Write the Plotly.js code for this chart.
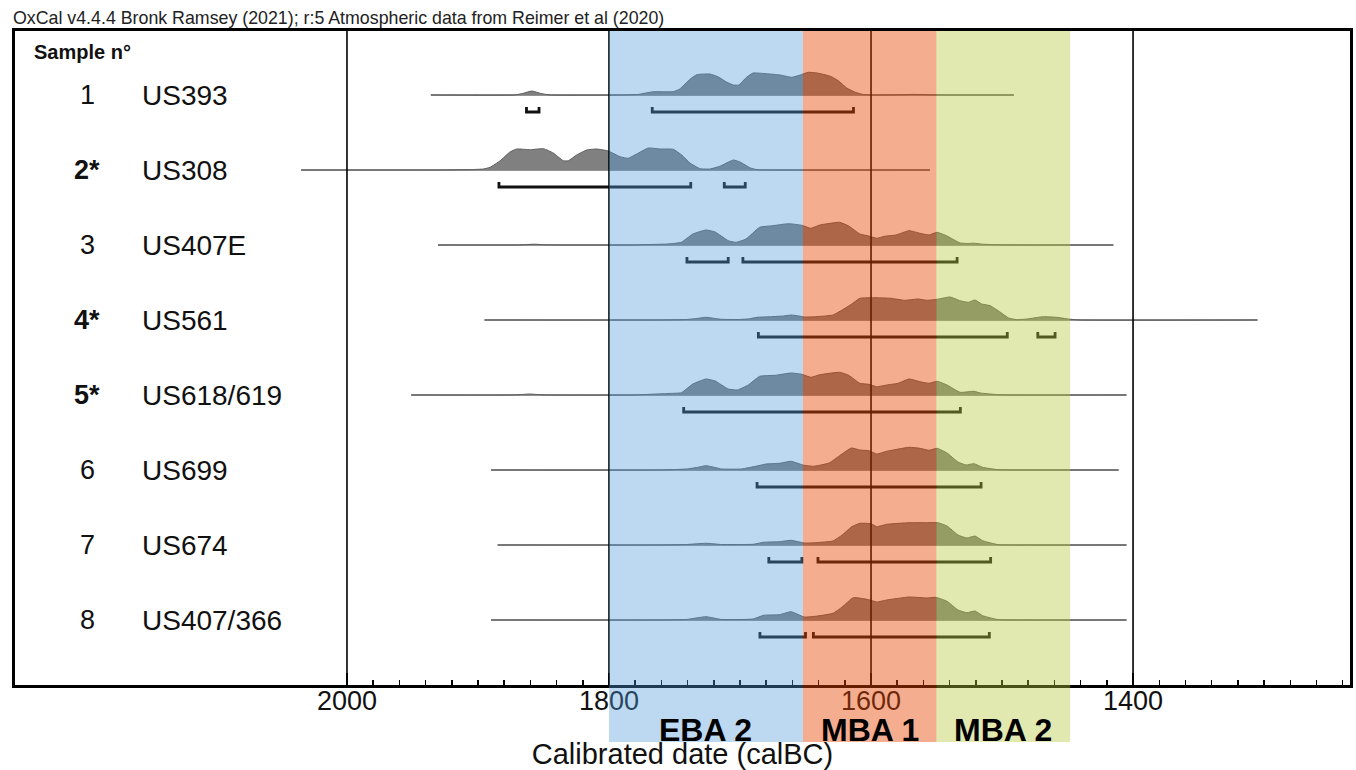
<!DOCTYPE html>
<html><head><meta charset="utf-8">
<script src="https://cdn.plot.ly/plotly-3.0.1.min.js"></script>
<style>html,body{margin:0;padding:0;background:#fff}#chart{width:1356px;height:770px}</style>
</head><body><div id="chart"></div>
<script>
// ---------- data ----------
const sampleNums  = ['1', '2*', '3', '4*', '5*', '6', '7', '8'];
const boldNums    = [false, true, false, true, true, false, false, false];
const sampleNames = ['US393', 'US308', 'US407E', 'US561', 'US618/619', 'US699', 'US674', 'US407/366'];
const lineStart   = [1936, 2035, 1930.5, 1895, 1951, 1890, 1885, 1890];
const lineEnd     = [1491, 1555, 1415, 1305, 1405, 1411, 1405, 1405];

const s1Years = [1936,1872,1866,1859,1852,1845,1790,1778,1772,1766,1751,1746,1738,1733,1723,1716.5,1710,1705,1701,1695,1690,1680,1669.5,1660.5,1654,1648,1641,1631,1625,1618.5,1612,1606,1598,1575,1567,1555,1540,1491];
const s1Dens  = [0,0,1.5,4,1.5,0,0,0.5,2,3.3,3.3,6,16,20.3,21,18,12.7,10,10,17.7,22,21.3,20,17.7,20,22.7,22,18.7,14.3,7,2.7,0.5,0,0.3,0.6,0.2,0,0];

const s2Years = [2035,1925,1905,1896,1890.8,1883,1875.6,1870.5,1860,1850,1842.5,1834.9,1831,1824.7,1817,1809.4,1800.5,1791.6,1785.3,1778.9,1770,1761,1750.9,1744.5,1738.2,1730.5,1722.9,1715,1705,1700,1692,1687,1680,1555];
const s2Dens  = [0,0,0.4,1,2.7,9.3,18,21,20.3,21.3,17,9.3,9.3,15,20,21,19,13.3,11.7,16,22,21,20.7,15,7,1.3,1,4,10,8,2,0.3,0,0];

const s3Years = [1930.5,1870,1862,1857,1850,1842,1780,1768.7,1755,1744.8,1736,1726,1719,1709,1703,1695.4,1685,1675,1663,1652.8,1646,1639,1624,1617,1608.5,1601.7,1595.6,1589.8,1581,1571,1562.6,1555.7,1549.6,1542,1532,1526,1521.5,1515,1506,1495,1415];
const s3Dens  = [0,0,0.5,0.8,0.3,0,0,0.5,1,2.7,11,15,13,4.3,2.7,6,17.7,19.3,21.3,19.7,16.7,20,22.7,19,11,9,6.7,8.7,10,14.3,11.7,10,12.7,9,2,1.5,1.8,0.8,0.3,0,0];

const s4Years = [1895,1760,1741,1733,1726,1719,1714,1700.5,1693,1687,1676.7,1667,1661,1655,1651,1642.6,1635,1629,1622,1615,1608.5,1598,1584.7,1574.4,1564,1557.4,1549,1539.7,1532,1525.7,1520.6,1515.5,1509,1501.5,1495,1488.8,1481,1468.5,1458.3,1449.4,1440.5,1305];
const s4Dens  = [0,0,0.5,1.5,2.7,1.5,0.7,0.5,1.2,2.7,3.3,4,5,4,3,3.3,4,5,10,15.7,21.7,22.3,21.7,19.7,21,19.7,20.8,23,19.3,17.7,20,16,14.3,8,2,0.3,1,3.3,2.7,1,0,0];

const s5Years = [1951,1875,1866,1860.7,1855,1848,1780,1768.7,1755,1744.8,1736,1726,1719,1709,1702,1693.7,1685,1673,1661,1652.8,1646,1639,1624,1617,1608.5,1601.7,1595.6,1588,1579.5,1571,1562.6,1555.7,1549.6,1542,1532,1521.5,1516.4,1503,1495,1405];
const s5Dens  = [0,0,0.5,1,0.5,0,0,0.7,1.5,2.3,11,16,14,6,5,10,18.7,19.7,22,20.7,17.7,20.3,22.7,19.7,11.7,10.7,8.3,10,11.7,16,13.3,11.7,13.7,10,2.7,3.7,2,0.3,0,0];

const s6Years = [1890,1760,1741,1733,1726,1719,1714,1699,1687,1680,1670,1661,1652,1644,1632,1624,1615,1608.5,1601.7,1595.6,1588,1571,1562.6,1555.7,1549.6,1542,1533.6,1527.5,1521.5,1514.8,1503,1495,1411];
const s6Dens  = [0,0,1,2.5,4.3,2.5,1,1,4,6,6.7,8.7,5,3.7,7,14.3,22,20,19.3,16,18.7,22.7,21.7,19.7,21.7,17,8,5,6.3,2.7,0.3,0,0];

const s7Years = [1885,1760,1741,1726,1714,1690,1682,1670,1661,1651,1642.6,1629,1622,1615,1608.5,1600,1595.6,1588,1571,1557.4,1549,1542,1533.6,1526.8,1520.6,1514.8,1503,1495,1405];
const s7Dens  = [0,0,0.5,1.7,0.5,0.7,2.7,3.3,4.7,2,2.3,4,10,18,21.7,21.3,18.3,20.7,22.3,22.3,22.3,19,10,7,9,4.3,0.3,0,0];

const s8Years = [1890,1760,1741,1726,1714,1690,1682,1670,1661,1651,1642.6,1629,1622,1613.6,1601.7,1595.6,1588,1571,1557.4,1550.6,1542,1533.6,1526.8,1520.6,1514.8,1503,1495,1405];
const s8Dens  = [0,0,0.5,3.3,0.5,1,4.7,5.3,8.3,3,3.7,6.7,13,22.3,20.3,18,20,23,22,22.7,18.7,10,7.3,9,4.3,0.3,0,0];

// highest-probability ranges (brackets), [from, to] in cal BC
const s1Ranges = [[1863, 1853.4], [1767, 1613.4]];
const s2Ranges = [[1884, 1737.6], [1712, 1696]];
const s3Ranges = [[1740.5, 1709], [1697.8, 1534.3]];
const s4Ranges = [[1686, 1496], [1472.7, 1459.5]];
const s5Ranges = [[1743, 1531.8]];
const s6Ranges = [[1687, 1516]];
const s7Ranges = [[1678, 1652.8], [1640.5, 1508.7]];
const s8Ranges = [[1684.8, 1650], [1644, 1509.7]];

const tickYears  = [2000, 1800, 1600, 1400];
const tickLabels = ['2000', '1800', '1600', '1400'];

const periodNames = ['EBA 2', 'MBA 1', 'MBA 2'];
const periodStart = [1800, 1652, 1550];
const periodEnd   = [1652, 1550, 1448];
const periodColors = ['rgba(82,155,221,0.38)', 'rgba(232,69,3,0.44)', 'rgba(180,200,57,0.40)'];

// ---------- build ----------
const allYears = [s1Years, s2Years, s3Years, s4Years, s5Years, s6Years, s7Years, s8Years];
const allDens  = [s1Dens, s2Dens, s3Dens, s4Dens, s5Dens, s6Dens, s7Dens, s8Dens];
const allRanges = [s1Ranges, s2Ranges, s3Ranges, s4Ranges, s5Ranges, s6Ranges, s7Ranges, s8Ranges];

const densScale = 1 / 75;     // density units -> row units
const bracketOff = 17 / 75;   // bracket offset below baseline
const hook = 5 / 75;

const traces = [];
for (let i = 0; i < 8; i++) {
  const row = i + 1;
  traces.push({
    type: 'scatter', mode: 'lines',
    x: [lineStart[i], lineEnd[i]], y: [row, row],
    line: {color: '#6e6e6e', width: 1.4}, hoverinfo: 'skip'
  });
  traces.push({
    type: 'scatter', mode: 'lines', fill: 'toself',
    x: allYears[i], y: allDens[i].map(d => row - d * densScale),
    fillcolor: '#808080', line: {color: '#5e5e5e', width: 1, shape: 'spline', smoothing: 0.4},
    hoverinfo: 'skip'
  });
  const bx = [], by = [];
  allRanges[i].forEach(r => {
    const yb = row + bracketOff;
    bx.push(r[0], r[0], r[1], r[1], null);
    by.push(yb - hook, yb, yb, yb - hook, null);
  });
  traces.push({
    type: 'scatter', mode: 'lines', x: bx, y: by,
    line: {color: '#111', width: 2.8}, hoverinfo: 'skip'
  });
}

const minorVals = [];
for (let v = 2000; v >= 1240; v -= 20) minorVals.push(v);

const shapes = [];
tickYears.forEach(v => shapes.push({
  type: 'line', layer: 'above', xref: 'x', yref: 'paper',
  x0: v, x1: v, y0: 0, y1: 1, line: {color: '#000', width: 1.6}
}));
const bandBottom = -57 / 654;
periodNames.forEach((n, k) => shapes.push({
  type: 'rect', layer: 'above', xref: 'x', yref: 'paper',
  x0: periodStart[k], x1: periodEnd[k], y0: bandBottom, y1: 1,
  fillcolor: periodColors[k], line: {width: 0}
}));

const FONT = 'Liberation Sans, Arial, sans-serif';
const plotL = 15, plotW = 1335;
const px = p => (p - plotL) / plotW;

const annotations = [];
annotations.push({
  text: '<b>Sample n°</b>', xref: 'paper', yref: 'y', x: px(32), y: 0.43,
  xanchor: 'left', yanchor: 'middle', showarrow: false,
  font: {family: FONT, size: 20, color: '#111'}
});
for (let i = 0; i < 8; i++) {
  annotations.push({
    text: boldNums[i] ? '<b>' + sampleNums[i] + '</b>' : sampleNums[i],
    xref: 'paper', yref: 'y', x: px(87), y: i + 1,
    xanchor: 'center', yanchor: 'middle', showarrow: false,
    font: {family: FONT, size: 27, color: '#111'}
  });
  annotations.push({
    text: sampleNames[i], xref: 'paper', yref: 'y', x: px(140), y: i + 1,
    xanchor: 'left', yanchor: 'middle', showarrow: false,
    font: {family: FONT, size: 28, color: '#111'}
  });
}
periodNames.forEach((n, k) => annotations.push({
  text: '<b>' + n + '</b>', xref: 'x', yref: 'paper',
  x: (periodStart[k] + periodEnd[k]) / 2, y: -45 / 654,
  xanchor: 'center', yanchor: 'middle', showarrow: false, borderpad: 0,
  font: {family: FONT, size: 32, color: '#000'}
}));

const layout = {
  width: 1356, height: 770,
  margin: {l: plotL, r: 6, t: 31, b: 85, pad: 0},
  paper_bgcolor: '#fff', plot_bgcolor: '#fff',
  showlegend: false, hovermode: false,
  title: {
    text: 'OxCal v4.4.4 Bronk Ramsey (2021); r:5 Atmospheric data from Reimer et al (2020)',
    xref: 'container', yref: 'container', x: 13 / 1356, xanchor: 'left',
    y: 1 - 18 / 770, yanchor: 'middle',
    font: {family: FONT, size: 17.8, color: '#222'}
  },
  xaxis: {
    range: [2253.4, 1234.4], tickmode: 'array', tickvals: tickYears, ticktext: tickLabels,
    ticks: 'inside', ticklen: 12, tickwidth: 2, tickcolor: '#000',
    showline: true, linewidth: 3, linecolor: '#000', mirror: true,
    showgrid: false, zeroline: false,
    tickfont: {family: FONT, size: 27, color: '#111'},
    ticklabelstandoff: -10,
    minor: {tickmode: 'array', tickvals: minorVals, ticks: 'inside', ticklen: 5, tickwidth: 1.5, tickcolor: '#000'},
    title: {text: 'Calibrated date (calBC)', standoff: 33, font: {family: FONT, size: 29, color: '#111'}},
    automargin: false
  },
  yaxis: {
    range: [8.8667, 0.1467], showticklabels: false, ticks: '',
    showline: true, linewidth: 3, linecolor: '#000', mirror: true,
    showgrid: false, zeroline: false, automargin: false
  },
  shapes: shapes,
  annotations: annotations
};

Plotly.newPlot('chart', traces, layout, {displayModeBar: false, staticPlot: true});
</script>
</body></html>
